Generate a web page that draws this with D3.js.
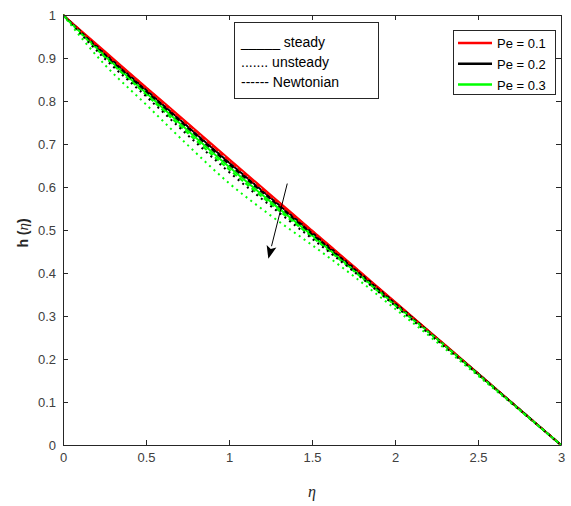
<!DOCTYPE html>
<html>
<head>
<meta charset="utf-8">
<script src="https://cdn.jsdelivr.net/npm/d3@7"></script>
<style>
  html, body { margin: 0; padding: 0; background: #fff; }
  svg { display: block; font-family: "Liberation Sans", Arial, sans-serif; }
</style>
</head>
<body>
<svg id="chart" width="571" height="506"></svg>
<script>
// Similarity variable eta
const eta = [0, 0.25, 0.5, 0.75, 1, 1.25, 1.5, 1.75, 2, 2.25, 2.5, 2.75, 3];

// h(eta) for each Peclet number: steady, unsteady and Newtonian profiles
const steadyPe01     = [1, 0.916, 0.832, 0.749, 0.665, 0.582, 0.499, 0.416, 0.333, 0.250, 0.167, 0.083, 0];
const steadyPe02     = [1, 0.911, 0.826, 0.741, 0.657, 0.575, 0.494, 0.413, 0.331, 0.249, 0.166, 0.083, 0];
const steadyPe03     = [1, 0.906, 0.819, 0.732, 0.647, 0.566, 0.488, 0.407, 0.327, 0.248, 0.165, 0.083, 0];
const unsteadyPe01   = [1, 0.913, 0.829, 0.745, 0.661, 0.578, 0.496, 0.414, 0.331, 0.249, 0.166, 0.083, 0];
const unsteadyPe02   = [1, 0.899, 0.811, 0.721, 0.635, 0.556, 0.480, 0.404, 0.324, 0.244, 0.164, 0.082, 0];
const unsteadyPe03   = [1, 0.885, 0.792, 0.698, 0.609, 0.534, 0.465, 0.393, 0.317, 0.240, 0.161, 0.081, 0];
const newtonianPe01  = [1, 0.914, 0.831, 0.747, 0.663, 0.580, 0.498, 0.415, 0.332, 0.249, 0.166, 0.083, 0];
const newtonianPe02  = [1, 0.909, 0.823, 0.738, 0.653, 0.572, 0.491, 0.411, 0.329, 0.248, 0.166, 0.083, 0];
const newtonianPe03  = [1, 0.903, 0.815, 0.726, 0.641, 0.561, 0.484, 0.405, 0.325, 0.247, 0.165, 0.082, 0];

const peLabels = ["Pe = 0.1", "Pe = 0.2", "Pe = 0.3"];
const peColors = ["#ff0000", "#000000", "#00ff00"];
const styleLabels = ["_____ steady", "....... unsteady", "------ Newtonian"];

const xTicks = [0, 0.5, 1, 1.5, 2, 2.5, 3];
const xTickLabels = ["0", "0.5", "1", "1.5", "2", "2.5", "3"];
const yTicks = [0, 0.1, 0.2, 0.3, 0.4, 0.5, 0.6, 0.7, 0.8, 0.9, 1];
const yTickLabels = ["0", "0.1", "0.2", "0.3", "0.4", "0.5", "0.6", "0.7", "0.8", "0.9", "1"];

// Arrow showing the trend with increasing Pe (data coordinates)
const arrowFrom = [1.351, 0.608];
const arrowTo = [1.237, 0.433];

const series = [
  { values: steadyPe01, pe: 0, dash: null },
  { values: steadyPe02, pe: 1, dash: null },
  { values: steadyPe03, pe: 2, dash: null },
  { values: newtonianPe01, pe: 0, dash: "5,3" },
  { values: newtonianPe02, pe: 1, dash: "5,3" },
  { values: newtonianPe03, pe: 2, dash: "5,3" },
  { values: unsteadyPe01, pe: 0, dash: "2,4" },
  { values: unsteadyPe02, pe: 1, dash: "2,4" },
  { values: unsteadyPe03, pe: 2, dash: "2,4" }
];

const svg = d3.select("#chart");
const plotLeft = 63, plotRight = 561, plotTop = 15, plotBottom = 445;
const axisColor = "#262626";
const labelColor = "#404040";

const x = d3.scaleLinear().domain([0, 3]).range([plotLeft, plotRight]);
const y = d3.scaleLinear().domain([0, 1]).range([plotBottom, plotTop]);

svg.append("defs").append("clipPath").attr("id", "plotClip")
  .append("rect").attr("x", plotLeft).attr("y", plotTop - 2)
  .attr("width", plotRight - plotLeft + 2).attr("height", plotBottom - plotTop + 4);

// Curves
const line = d3.line()
  .x((d, i) => x(eta[i]))
  .y(d => y(d))
  .curve(d3.curveMonotoneX);

const curves = svg.append("g").attr("clip-path", "url(#plotClip)");
series.forEach(s => {
  curves.append("path")
    .attr("d", line(s.values))
    .attr("fill", "none")
    .attr("stroke", peColors[s.pe])
    .attr("stroke-width", 2)
    .attr("stroke-dasharray", s.dash)
    .attr("stroke-linejoin", "round");
});

// Axes (box with inward ticks)
function styleAxis(g) {
  g.selectAll(".domain").attr("stroke", axisColor).attr("stroke-width", 1);
  g.selectAll(".tick line").attr("stroke", axisColor).attr("stroke-width", 1);
  g.selectAll(".tick text").attr("fill", labelColor)
    .style("font-size", "13px").style("font-family", "'Liberation Sans', Arial, sans-serif");
}

svg.append("g").attr("transform", `translate(0,${plotBottom})`)
  .call(d3.axisBottom(x).tickValues(xTicks).tickFormat((d, i) => xTickLabels[i])
    .tickSizeInner(-5).tickSizeOuter(0).tickPadding(8))
  .call(styleAxis);

svg.append("g").attr("transform", `translate(0,${plotTop})`)
  .call(d3.axisTop(x).tickValues(xTicks).tickFormat("")
    .tickSizeInner(-5).tickSizeOuter(0))
  .call(styleAxis);

svg.append("g").attr("transform", `translate(${plotLeft},0)`)
  .call(d3.axisLeft(y).tickValues(yTicks).tickFormat((d, i) => yTickLabels[i])
    .tickSizeInner(-5).tickSizeOuter(0).tickPadding(7))
  .call(styleAxis);

svg.append("g").attr("transform", `translate(${plotRight},0)`)
  .call(d3.axisRight(y).tickValues(yTicks).tickFormat("")
    .tickSizeInner(-5).tickSizeOuter(0))
  .call(styleAxis);

// Axis titles
svg.append("text")
  .attr("x", (plotLeft + plotRight) / 2).attr("y", 497)
  .attr("text-anchor", "middle")
  .attr("fill", axisColor)
  .style("font-family", "'Liberation Serif', 'DejaVu Serif', serif")
  .style("font-style", "italic")
  .style("font-size", "16px")
  .text("η");

const yTitle = svg.append("text")
  .attr("transform", `translate(28,${(plotTop + plotBottom) / 2 + 3}) rotate(-90)`)
  .attr("text-anchor", "middle")
  .attr("fill", axisColor)
  .style("font-size", "14px")
  .style("font-weight", "bold");
yTitle.append("tspan").text("h (");
yTitle.append("tspan")
  .style("font-family", "'Liberation Serif', 'DejaVu Serif', serif")
  .style("font-style", "italic").style("font-weight", "normal")
  .style("font-size", "15px")
  .text("η");
yTitle.append("tspan").text(")");

// Trend arrow
const ax0 = x(arrowFrom[0]), ay0 = y(arrowFrom[1]);
const ax1 = x(arrowTo[0]), ay1 = y(arrowTo[1]);
const ang = Math.atan2(ay1 - ay0, ax1 - ax0);
const headLen = 13, headHalf = 5;
const bx = ax1 - headLen * Math.cos(ang), by = ay1 - headLen * Math.sin(ang);
svg.append("line")
  .attr("x1", ax0).attr("y1", ay0).attr("x2", bx).attr("y2", by)
  .attr("stroke", "#000").attr("stroke-width", 1);
svg.append("path")
  .attr("d", `M${ax1},${ay1}` +
    `L${bx + headHalf * Math.sin(ang)},${by - headHalf * Math.cos(ang)}` +
    `L${bx + 3 * Math.cos(ang)},${by + 3 * Math.sin(ang)}` +
    `L${bx - headHalf * Math.sin(ang)},${by + headHalf * Math.cos(ang)}Z`)
  .attr("fill", "#000");

// Line-style legend (text only)
const leg1 = svg.append("g");
leg1.append("rect").attr("x", 234.5).attr("y", 22.5).attr("width", 144).attr("height", 76)
  .attr("fill", "#fff").attr("stroke", axisColor).attr("stroke-width", 1);
styleLabels.forEach((t, i) => {
  leg1.append("text")
    .attr("x", 241).attr("y", 47 + i * 20)
    .attr("fill", "#000")
    .style("font-size", "14px")
    .text(t);
});

// Peclet legend
const leg2 = svg.append("g");
leg2.append("rect").attr("x", 453.5).attr("y", 30.5).attr("width", 102).attr("height", 64)
  .attr("fill", "#fff").attr("stroke", axisColor).attr("stroke-width", 1);
peLabels.forEach((t, i) => {
  const ly = 43 + i * 20.8;
  leg2.append("line")
    .attr("x1", 458).attr("x2", 492).attr("y1", ly).attr("y2", ly)
    .attr("stroke", peColors[i]).attr("stroke-width", 2.5);
  leg2.append("text")
    .attr("x", 497).attr("y", ly + 5)
    .attr("fill", "#000")
    .style("font-size", "13px")
    .text(t);
});
</script>
</body>
</html>
